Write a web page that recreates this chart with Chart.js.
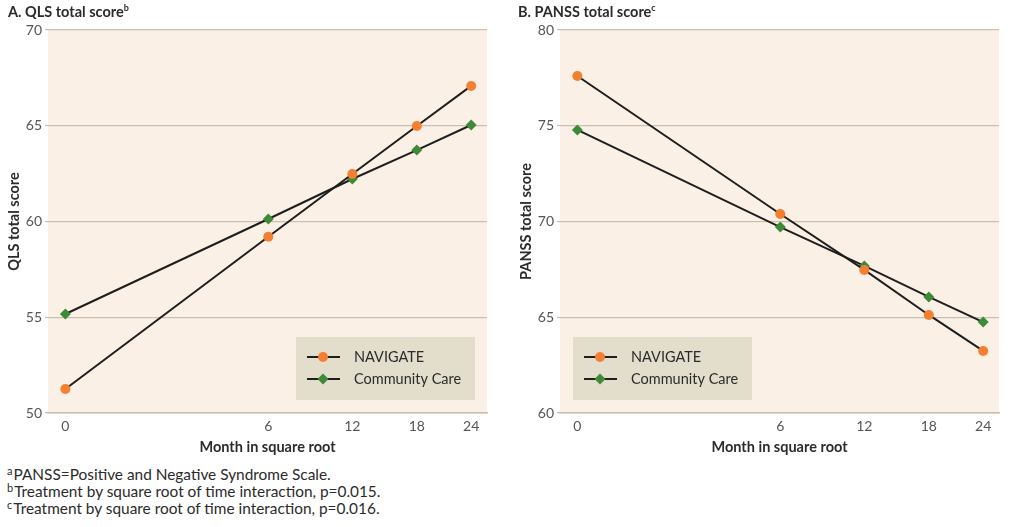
<!DOCTYPE html>
<html>
<head>
<meta charset="utf-8">
<script src="https://cdn.jsdelivr.net/npm/chart.js@4"></script>
<style>
  body { margin: 0; background: #fff; font-family: Lato, "Open Sans", sans-serif; color: #2b2b2b; }
  .wrap { position: relative; width: 1024px; height: 527px; overflow: hidden; }
  .panel { position: absolute; top: 0; height: 460px; }
  .title { position: absolute; top: 2px; font-weight: bold; font-size: 14.5px; }
  .title sup { font-size: 9px; font-weight: bold; }
  .notes { position: absolute; left: 7px; top: 466px; font-size: 15.4px; line-height: 17px; color: #2b2b2b; }
  .notes div { height: 17px; }
  .notes sup { font-size: 11px; vertical-align: 5px; line-height: 0; margin-right: 1px; }
</style>
</head>
<body>
<div class="wrap">
  <div class="panel" style="left:0;width:500px"><canvas id="qlsChart"></canvas></div>
  <div class="panel" style="left:512px;width:500px"><canvas id="panssChart"></canvas></div>
  <div class="title" style="left:8px">A. QLS total score<sup>b</sup></div>
  <div class="title" style="left:518px">B. PANSS total score<sup>c</sup></div>
  <div class="notes">
    <div><sup>a</sup>PANSS=Positive and Negative Syndrome Scale.</div>
    <div><sup>b</sup>Treatment by square root of time interaction, p=0.015.</div>
    <div><sup>c</sup>Treatment by square root of time interaction, p=0.016.</div>
  </div>
</div>
<script>
const months = [0, 6, 12, 18, 24];
const seriesNames = ["NAVIGATE", "Community Care"];
const qlsNavigate = [51.25, 59.2, 62.48, 64.99, 67.08];
const qlsCommunity = [55.17, 60.13, 62.22, 63.73, 65.04];
const panssNavigate = [77.6, 70.39, 67.47, 65.12, 63.24];
const panssCommunity = [74.78, 69.71, 67.68, 66.06, 64.75];
const qlsTicks = [50, 55, 60, 65, 70];
const panssTicks = [60, 65, 70, 75, 80];

const ORANGE = "#f47f30", GREEN = "#3d8a38", LINE = "#1e1e1e";
const BG = "#faf0e6", GRID = "#c9c0b2", BOX = "#e3ddcb";

const bgPlugin = {
  id: "plotBg",
  beforeDraw(chart) {
    const { ctx, chartArea: a } = chart;
    ctx.save();
    ctx.fillStyle = BG;
    ctx.fillRect(a.left, a.top, a.right - a.left, a.bottom - a.top);
    ctx.restore();
  }
};

// legend drawn as a box inside the plot area
const boxLegend = {
  id: "boxLegend",
  afterDatasetsDraw(chart, args, opts) {
    const { ctx, chartArea: a } = chart;
    const x = a.left + opts.left, y = a.top + opts.top;
    ctx.save();
    ctx.fillStyle = BOX;
    ctx.fillRect(x, y, 179, 63);
    chart.data.datasets.forEach((ds, i) => {
      const cy = y + 20 + i * 22;
      ctx.strokeStyle = LINE;
      ctx.lineWidth = 2;
      ctx.beginPath();
      ctx.moveTo(x + 11, cy);
      ctx.lineTo(x + 44, cy);
      ctx.stroke();
      ctx.fillStyle = ds.pointBackgroundColor;
      ctx.beginPath();
      if (ds.pointStyle === "circle") {
        ctx.arc(x + 27, cy, 5, 0, Math.PI * 2);
      } else {
        ctx.moveTo(x + 27, cy - 5.5); ctx.lineTo(x + 32.5, cy);
        ctx.lineTo(x + 27, cy + 5.5); ctx.lineTo(x + 21.5, cy);
      }
      ctx.fill();
      ctx.fillStyle = "#2b2b2b";
      ctx.font = "14.5px Lato";
      ctx.textBaseline = "middle";
      ctx.fillText(ds.label, x + 58, cy);
    });
    ctx.restore();
  }
};

function makeChart(id, yTitle, nav, comm, ticks, legendLeft) {
  const pts = vals => months.map((m, i) => ({ x: Math.sqrt(m), y: vals[i] }));
  const ds = (label, vals, color, style) => ({
    label, data: pts(vals),
    borderColor: LINE, borderWidth: 2,
    pointStyle: style, pointRadius: style === "circle" ? 5 : 5.5,
    pointBackgroundColor: color, pointBorderWidth: 0,
    tension: 0
  });
  return new Chart(document.getElementById(id), {
    type: "line",
    data: { datasets: [ds(seriesNames[0], nav, ORANGE, "circle"), ds(seriesNames[1], comm, GREEN, "rectRot")] },
    plugins: [bgPlugin, boxLegend],
    options: {
      responsive: true, maintainAspectRatio: false, animation: false,
      layout: { padding: { top: 30, right: 13, left: 0, bottom: 0 } },
      plugins: { legend: { display: false }, tooltip: { enabled: false }, boxLegend: { left: legendLeft, top: 307 } },
      scales: {
        x: {
          type: "linear", min: -0.21, max: 5.09,
          afterBuildTicks: s => { s.ticks = months.map(m => ({ value: Math.sqrt(m) })); },
          afterFit: s => { s.height = 47; },
          grid: { display: false, drawTicks: false, tickLength: 0 },
          border: { display: true, color: GRID, width: 1.5 },
          ticks: { color: "#555", font: { family: "Lato", size: 14 }, padding: 5, callback: (v, i) => months[i] },
          title: { display: true, text: "Month in square root", color: "#2b2b2b", font: { family: "Lato", size: 14.5, weight: "bold" }, padding: { top: 4, bottom: 4 } }
        },
        y: {
          min: ticks[0], max: ticks[ticks.length - 1],
          afterBuildTicks: s => { s.ticks = ticks.map(v => ({ value: v })); },
          afterFit: s => { s.width = 48; },
          grid: { color: GRID, lineWidth: 1.2, tickLength: 3 },
          border: { display: false },
          ticks: { color: "#555", font: { family: "Lato", size: 14 }, padding: 3 },
          title: { display: true, text: yTitle, color: "#2b2b2b", font: { family: "Lato", size: 14.5, weight: "bold" }, padding: { top: 6, bottom: 4 } }
        }
      }
    }
  });
}

makeChart("qlsChart", "QLS total score", qlsNavigate, qlsCommunity, qlsTicks, 248);
makeChart("panssChart", "PANSS total score", panssNavigate, panssCommunity, panssTicks, 13);
</script>
</body>
</html>
